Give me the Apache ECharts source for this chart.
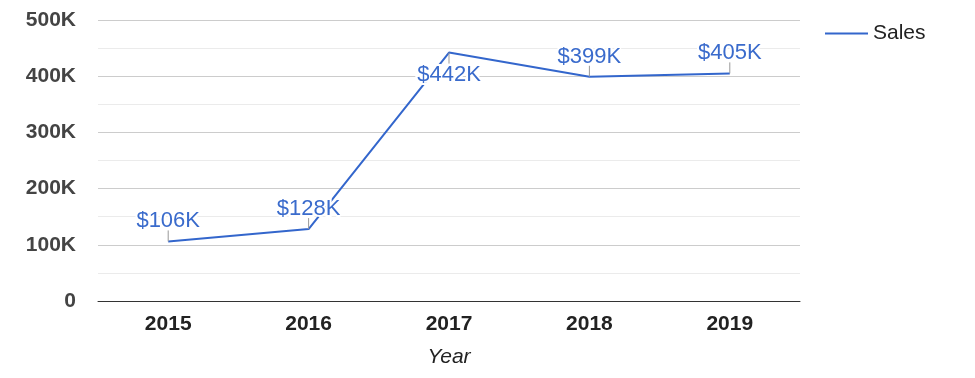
<!doctype html>
<html>
<head>
    <meta charset="utf-8" />
    <script src="https://cdn.jsdelivr.net/npm/echarts@6/dist/echarts.min.js"></script>
    <style>
        html, body { margin: 0; padding: 0; background: #fff; }
        #chart { width: 975px; height: 378px; }
    </style>
</head>
<body>
<div id="chart"></div>
<script>
const years = ['2015', '2016', '2017', '2018', '2019'];
const sales = [106000, 128000, 442000, 399000, 405000];
const seriesName = 'Sales';
const axisName = 'Year';

const FONT = 'Arial, "Liberation Sans", sans-serif';
const BLUE = '#3366cc';

function kFmt(v) {
    return Math.round(v / 1000) + 'K';
}

const chart = echarts.init(document.getElementById('chart'));

chart.setOption({
    animation: false,
    grid: { left: 98, right: 175, top: 20, bottom: 77, outerBoundsMode: 'none' },
    legend: {
        left: 820, top: 18,
        icon: 'rect', itemWidth: 43, itemHeight: 2, itemGap: 10,
        textStyle: { fontFamily: FONT, fontSize: 21, color: '#222', padding: [0, 0, 0, 0] },
        data: [seriesName]
    },
    xAxis: {
        type: 'category',
        data: years,
        name: axisName,
        nameLocation: 'middle',
        nameGap: 46,
        nameTextStyle: { fontFamily: FONT, fontSize: 21, fontStyle: 'italic', color: '#222' },
        axisTick: { show: false },
        axisLine: { lineStyle: { color: '#333', width: 1 } },
        axisLabel: { fontFamily: FONT, fontSize: 21, fontWeight: 'bold', color: '#222', margin: 13 }
    },
    yAxis: {
        type: 'value',
        min: 0, max: 500000, interval: 50000,
        axisLine: { show: false },
        axisTick: { show: false },
        axisLabel: {
            fontFamily: FONT, fontSize: 21, fontWeight: 'bold', color: '#444', margin: 22,
            formatter: v => v === 0 ? '0' : (v % 100000 === 0 ? kFmt(v) : '')
        },
        splitLine: { lineStyle: { color: ['#ccc', '#ebebeb'], width: 1 } }
    },
    series: [{
        name: seriesName,
        type: 'line',
        data: sales,
        color: BLUE,
        symbol: 'none',
        lineStyle: { color: BLUE, width: 2 },
        z: 2
    }, {
        type: 'custom',
        data: sales.map((v, i) => [i, v]),
        z: 3,
        silent: true,
        renderItem: function (params, api) {
            const i = params.dataIndex;
            const p = api.coord([api.value(0), api.value(1)]);
            // peak label sits under its point
            const dir = i === 2 ? 1 : -1;
            return {
                type: 'group',
                children: [{
                    type: 'line',
                    shape: { x1: p[0], y1: p[1], x2: p[0], y2: p[1] + dir * 11 },
                    style: { stroke: '#999', lineWidth: 1 }
                }, {
                    type: 'text',
                    style: {
                        text: '$' + kFmt(api.value(1)),
                        x: p[0], y: p[1] + dir * 21 + 1,
                        align: 'center', verticalAlign: 'middle',
                        fill: '#3a6bcc',
                        font: '22px ' + FONT,
                        stroke: '#fff', lineWidth: 4
                    }
                }]
            };
        }
    }]
});
</script>
</body>
</html>
